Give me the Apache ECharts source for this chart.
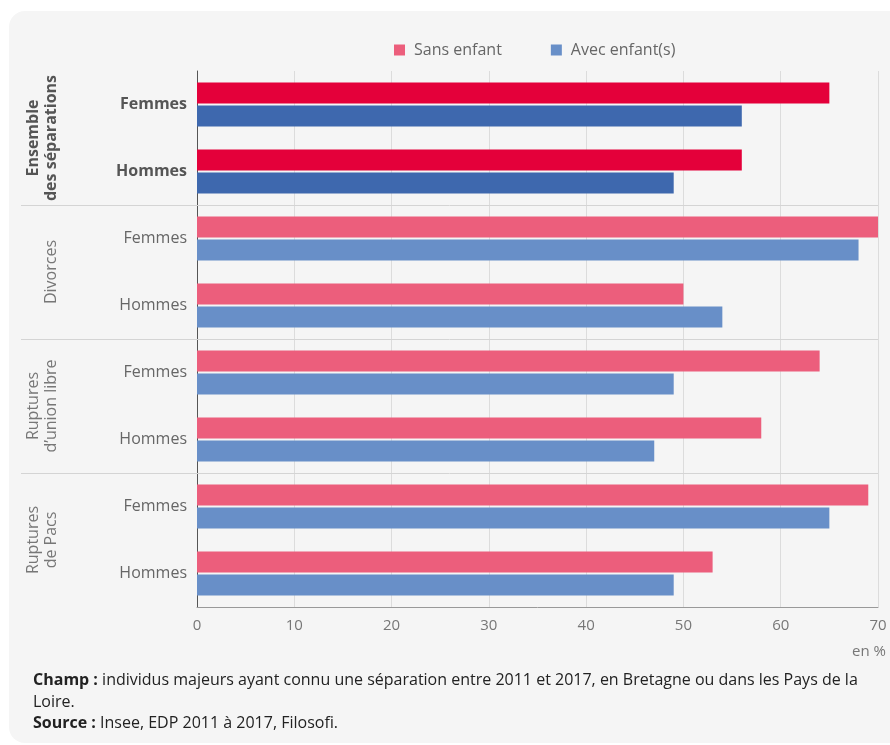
<!DOCTYPE html>
<html>
<head>
<meta charset="utf-8">
<script src="https://cdn.jsdelivr.net/npm/echarts@6/dist/echarts.min.js"></script>
<style>
  html, body { margin: 0; padding: 0; background: #fff; }
  #card { position: absolute; left: 9px; top: 11px; width: 900px; height: 732px; background: #f5f5f5; border-radius: 16px; }
  #main { position: absolute; left: 0; top: 0; width: 890px; height: 745px; }
</style>
</head>
<body>
<div id="card"></div>
<div id="main"></div>
<script>
var groups = ['Ensemble\ndes séparations', 'Divorces', 'Ruptures\nd\u2019union libre', 'Ruptures\nde Pacs'];
var sexes = ['Femmes', 'Hommes'];
var legendNames = ['Sans enfant', 'Avec enfant(s)'];
// en %, de haut en bas
var sansEnfant = [65, 56, 70, 50, 64, 58, 69, 53];
var avecEnfant = [56, 49, 68, 54, 49, 47, 65, 49];
var xTicks = [0, 10, 20, 30, 40, 50, 60, 70];

var lightColors = ['#ec5e7c', '#688fc8'];
var darkColors = ['#e4003a', '#3e68ae'];

var categories = [];
groups.forEach(function (g, gi) {
    sexes.forEach(function (s) {
        var item = { value: gi + '|' + s };
        if (gi === 0) {
            item.textStyle = { fontWeight: 'bold', color: '#555' };
        }
        categories.push(item);
    });
});

function barData(values, k) {
    return values.map(function (v, i) {
        return {
            value: v,
            itemStyle: { color: i < 2 ? darkColors[k] : lightColors[k] }
        };
    });
}

var chart = echarts.init(document.getElementById('main'));
var font = '"Open Sans", sans-serif';

var option = {
    backgroundColor: 'transparent',
    textStyle: { fontFamily: font },
    animation: false,
    legend: {
        data: legendNames,
        left: 389,
        top: 37,
        icon: 'rect',
        itemWidth: 11,
        itemHeight: 11,
        itemGap: 49,
        textStyle: { color: '#666', fontSize: 16, fontFamily: font, padding: [0, 0, 0, 4] }
    },
    grid: {
        left: 197,
        right: 12,
        top: 71,
        bottom: 138,
        containLabel: false
    },
    xAxis: {
        type: 'value',
        min: xTicks[0],
        max: xTicks[xTicks.length - 1],
        interval: 10,
        axisLine: { show: true, lineStyle: { color: '#999' } },
        axisTick: { show: false },
        axisLabel: { color: '#777', fontSize: 15, margin: 11, fontFamily: font },
        splitLine: { show: true, lineStyle: { color: '#dcdcdc' } }
    },
    yAxis: [{
        type: 'category',
        inverse: true,
        data: categories,
        axisLine: { show: true, lineStyle: { color: '#555' } },
        axisTick: { show: false },
        axisLabel: {
            color: '#666',
            fontSize: 16,
            margin: 10,
            interval: 0,
            fontFamily: font,
            formatter: function (v) { return v.split('|')[1]; }
        },
        splitLine: { show: false }
    }, {
        type: 'category',
        inverse: true,
        position: 'left',
        offset: 130,
        data: groups.map(function (g, gi) {
            return gi === 0 ? { value: g, textStyle: { fontWeight: 'bold', color: '#555' } } : g;
        }),
        axisLine: { show: false },
        axisTick: { show: false },
        splitLine: { show: false },
        axisLabel: {
            rotate: 90,
            interval: 0,
            hideOverlap: false,
            color: '#777',
            fontSize: 16,
            lineHeight: 18,
            margin: 7,
            fontFamily: font
        }
    }],
    series: [{
        name: legendNames[0],
        type: 'bar',
        barWidth: 21,
        barGap: '10%',
        itemStyle: { color: lightColors[0] },
        data: barData(sansEnfant, 0)
    }, {
        name: legendNames[1],
        type: 'bar',
        barWidth: 21,
        barGap: '10%',
        itemStyle: { color: lightColors[1] },
        data: barData(avecEnfant, 1)
    }]
};
chart.setOption(option);

// group separators, placed from the category axis
var xEnd = chart.convertToPixel({ xAxisIndex: 0 }, xTicks[xTicks.length - 1]);
var lines = [];
for (var gi = 1; gi < groups.length; gi++) {
    var a = chart.convertToPixel({ yAxisIndex: 0 }, categories[gi * 2 - 1].value);
    var b = chart.convertToPixel({ yAxisIndex: 0 }, categories[gi * 2].value);
    var y = Math.round((a + b) / 2) + 0.5;
    lines.push({
        type: 'line',
        z: 1,
        shape: { x1: 21, y1: y, x2: xEnd, y2: y },
        style: { stroke: '#d4d4d4', lineWidth: 1 }
    });
}
lines.push({
    type: 'text',
    right: 4,
    top: 644,
    style: { text: 'en %', fill: '#777', fontSize: 15, fontFamily: font }
});
lines.push({
    type: 'text',
    left: 33,
    top: 670,
    style: {
        text: '{b|Champ :} individus majeurs ayant connu une séparation entre 2011 et 2017, en Bretagne ou dans les Pays de la\nLoire.\n{b|Source :} Insee, EDP 2011 à 2017, Filosofi.',
        fill: '#222',
        fontSize: 16,
        lineHeight: 21.5,
        fontFamily: font,
        rich: {
            b: { fontWeight: 'bold', fontSize: 16, fill: '#222', fontFamily: font, lineHeight: 21.5 }
        }
    }
});
chart.setOption({ graphic: lines });
</script>
</body>
</html>
